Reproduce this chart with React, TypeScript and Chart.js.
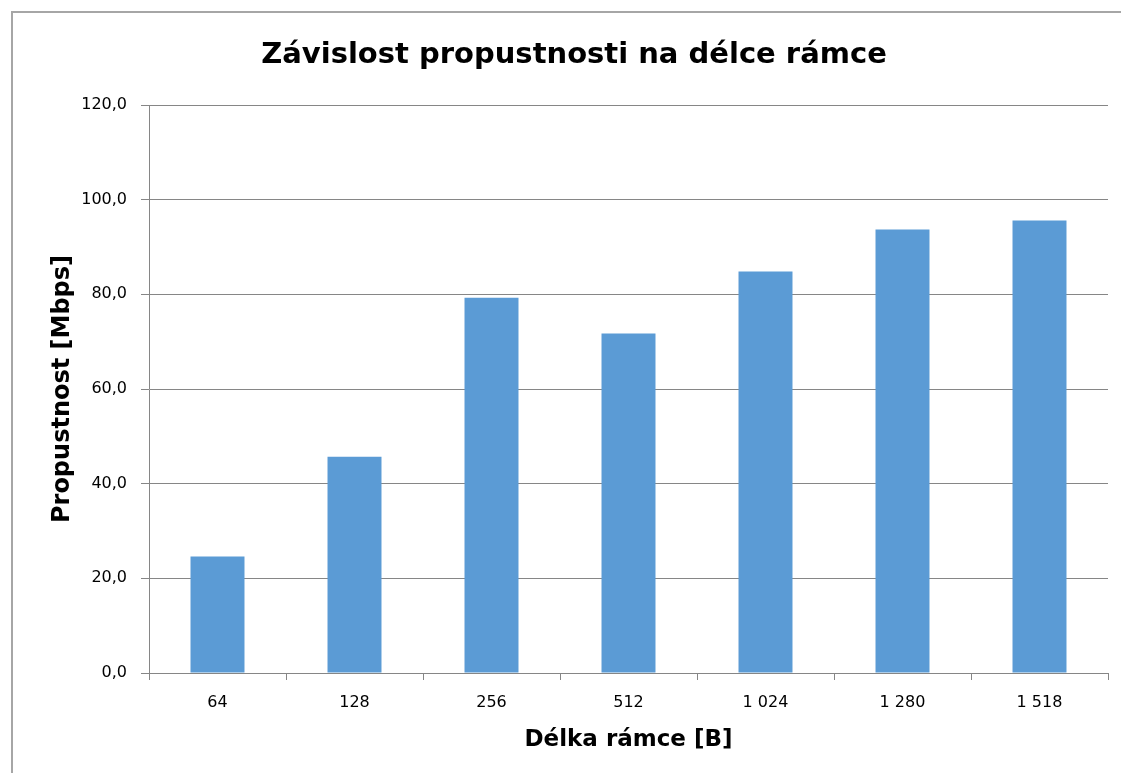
import React, { useEffect, useRef } from "react";
import { Chart, registerables } from "chart.js";

Chart.register(...registerables);

const categories = ["64", "128", "256", "512", "1 024", "1 280", "1 518"];
const throughput = [24.6, 45.7, 79.3, 71.7, 84.8, 93.7, 95.6];
const yTickLabels = ["0,0", "20,0", "40,0", "60,0", "80,0", "100,0", "120,0"];
const chartTitle = "Závislost propustnosti na délce rámce";
const xTitle = "Délka rámce [B]";
const yTitle = "Propustnost [Mbps]";

const GRID = "#868686";
const BAR = "#5B9BD5";

const framePlugin = {
  id: "frame",
  beforeDraw(chart: any) {
    const { ctx, width, height } = chart;
    ctx.save();
    ctx.fillStyle = "#ffffff";
    ctx.fillRect(0, 0, width, height);
    ctx.strokeStyle = "#A6A6A6";
    ctx.lineWidth = 2;
    ctx.strokeRect(12, 12, width + 20, height + 20);
    ctx.restore();
  },
  afterDraw(chart: any) {
    const { ctx } = chart;
    ctx.save();
    ctx.fillStyle = "#000000";
    ctx.font = "bold 29px 'DejaVu Sans'";
    ctx.textAlign = "center";
    ctx.textBaseline = "middle";
    ctx.fillText(chartTitle, 574, 55);
    ctx.restore();
  },
};

export default function App() {
  const ref = useRef<HTMLCanvasElement | null>(null);
  useEffect(() => {
    if (!ref.current) return;
    const chart = new Chart(ref.current, {
      type: "bar",
      data: {
        labels: categories,
        datasets: [
          {
            data: throughput,
            backgroundColor: BAR,
            borderWidth: 0,
            categoryPercentage: 1,
            barPercentage: 0.394,
          },
        ],
      },
      options: {
        responsive: false,
        animation: false,
        devicePixelRatio: 1,
        layout: { padding: { top: 105, right: 13, left: 0, bottom: 0 } },
        plugins: {
          legend: { display: false },
          title: { display: false },
          tooltip: { enabled: false },
        },
        scales: {
          x: {
            offset: true,
            afterFit: (s: any) => {
              s.height = 100;
            },
            grid: {
              offset: true,
              drawOnChartArea: false,
              drawTicks: true,
              tickLength: 7,
              color: GRID,
            },
            border: { color: GRID, width: 1 },
            ticks: {
              color: "#000000",
              padding: 13,
              maxRotation: 0,
              font: { family: "'DejaVu Sans'", size: 16 },
            },
            title: {
              display: true,
              text: xTitle,
              color: "#000000",
              font: { family: "'DejaVu Sans'", size: 23, weight: "bold" },
              padding: { top: 0, bottom: 19 },
            },
          },
          y: {
            min: 0,
            max: 120,
            afterFit: (s: any) => {
              s.width = 149;
            },
            ticks: {
              stepSize: 20,
              color: "#000000",
              padding: 14,
              font: { family: "'DejaVu Sans'", size: 16 },
              callback: (_v: any, i: number) => yTickLabels[i],
            },
            grid: {
              color: GRID,
              drawTicks: true,
              tickLength: 8,
            },
            border: { color: GRID, width: 1 },
            title: {
              display: true,
              text: yTitle,
              color: "#000000",
              font: { family: "'DejaVu Sans'", size: 24, weight: "bold" },
              padding: { top: 48, bottom: 0 },
            },
          },
        },
      },
      plugins: [framePlugin],
    });
    return () => chart.destroy();
  }, []);
  return (
    <div style={{ position: "absolute", left: 0, top: 0, width: 1121, height: 773 }}>
      <canvas ref={ref} width={1121} height={773} style={{ display: "block" }} />
    </div>
  );
}
